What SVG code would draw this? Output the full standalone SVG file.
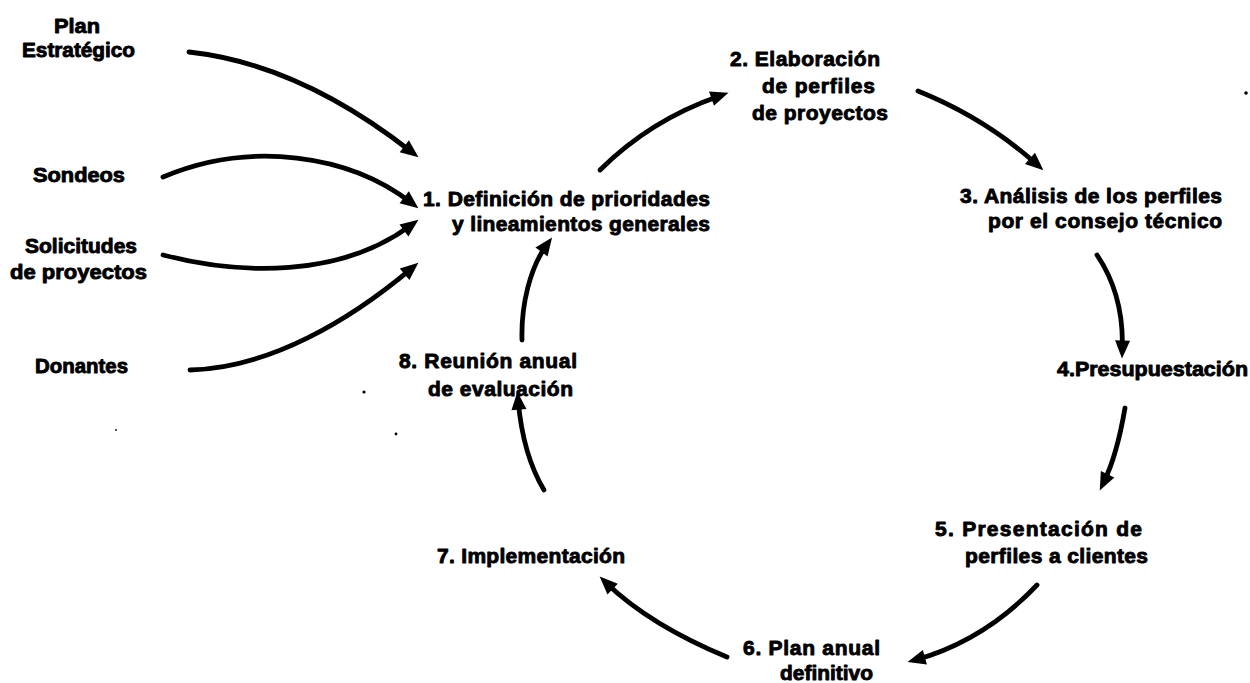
<svg xmlns="http://www.w3.org/2000/svg" width="1250" height="683" viewBox="0 0 1250 683">
<style>
text{font-family:"Liberation Sans",Arial,sans-serif;font-weight:bold;font-size:21px;fill:#000;stroke:#000;stroke-width:0.9px;stroke-linejoin:round}
.c{fill:none;stroke:#000;stroke-width:4.8;stroke-linecap:round;marker-end:url(#ah)}
</style>
<defs>
<marker id="ah" markerUnits="userSpaceOnUse" markerWidth="18" markerHeight="15" refX="8.5" refY="7.5" orient="auto" overflow="visible">
<path d="M0,0 L18,7.5 L0,15 Z" fill="#000"/>
</marker>
</defs>
<rect width="1250" height="683" fill="#fff"/>
<g id="connectors">
<path class="c" d="M189,52 Q299,64 411,151.5"/>
<path class="c" d="M163,177 C250,140 350,155 410.9,202.5"/>
<path class="c" d="M163,255 C240,275 340,278 410.8,225.4"/>
<path class="c" d="M190,370 C270,368 350,320 411.1,268.8"/>
<path class="c" d="M600,170 Q650,120 719.5,95.9"/>
<path class="c" d="M918,91 Q985,118 1036.3,164"/>
<path class="c" d="M1097,255 Q1124,295 1122.3,349"/>
<path class="c" d="M1125,408 Q1117,455 1103.9,481.9"/>
<path class="c" d="M1037,585 Q985,640 916.7,659.5"/>
<path class="c" d="M727,657 Q650,625 606.5,583.2"/>
<path class="c" d="M544,490 Q523,455 518.2,401.1"/>
<path class="c" d="M522,340 C521,305 530,268 546.5,245.1"/>
</g>
<g id="plan-estrategico">
<text x="54" y="33" textLength="46" lengthAdjust="spacingAndGlyphs">Plan</text>
<text x="22" y="57" textLength="113" lengthAdjust="spacingAndGlyphs">Estratégico</text>
</g>
<g id="sondeos">
<text x="33" y="182" textLength="92" lengthAdjust="spacingAndGlyphs">Sondeos</text>
</g>
<g id="solicitudes">
<text x="25" y="253" textLength="112" lengthAdjust="spacingAndGlyphs">Solicitudes</text>
<text x="10" y="279" textLength="137" lengthAdjust="spacingAndGlyphs">de proyectos</text>
</g>
<g id="donantes">
<text x="35" y="373" textLength="93" lengthAdjust="spacingAndGlyphs">Donantes</text>
</g>
<g id="n1">
<text x="423" y="206" textLength="287" lengthAdjust="spacing">1. Definición de prioridades</text>
<text x="452" y="231" textLength="258" lengthAdjust="spacing">y lineamientos generales</text>
</g>
<g id="n2">
<text x="730" y="66" textLength="150" lengthAdjust="spacing">2. Elaboración</text>
<text x="762" y="93" textLength="113" lengthAdjust="spacing">de perfiles</text>
<text x="752" y="120" textLength="136" lengthAdjust="spacing">de proyectos</text>
</g>
<g id="n3">
<text x="960" y="203" textLength="262" lengthAdjust="spacing">3. Análisis de los perfiles</text>
<text x="988" y="228" textLength="234" lengthAdjust="spacing">por el consejo técnico</text>
</g>
<g id="n4">
<text x="1057" y="376" textLength="191" lengthAdjust="spacingAndGlyphs">4.Presupuestación</text>
</g>
<g id="n5">
<text x="935" y="536" textLength="207" lengthAdjust="spacing">5. Presentación de</text>
<text x="965" y="563" textLength="183" lengthAdjust="spacing">perfiles a clientes</text>
</g>
<g id="n6">
<text x="743" y="655" textLength="137" lengthAdjust="spacing">6. Plan anual</text>
<text x="780" y="680" textLength="93" lengthAdjust="spacingAndGlyphs">definitivo</text>
</g>
<g id="n7">
<text x="437" y="563" textLength="188" lengthAdjust="spacing">7. Implementación</text>
</g>
<g id="n8">
<text x="399" y="368" textLength="178" lengthAdjust="spacing">8. Reunión anual</text>
<text x="428" y="396" textLength="145" lengthAdjust="spacing">de evaluación</text>
</g>
<g id="specks" fill="#000">
<circle cx="1246" cy="93" r="1.8"/>
<circle cx="364" cy="392" r="1.6"/>
<circle cx="396" cy="434" r="1.4"/>
<circle cx="116" cy="430" r="0.9"/>
</g>
</svg>
